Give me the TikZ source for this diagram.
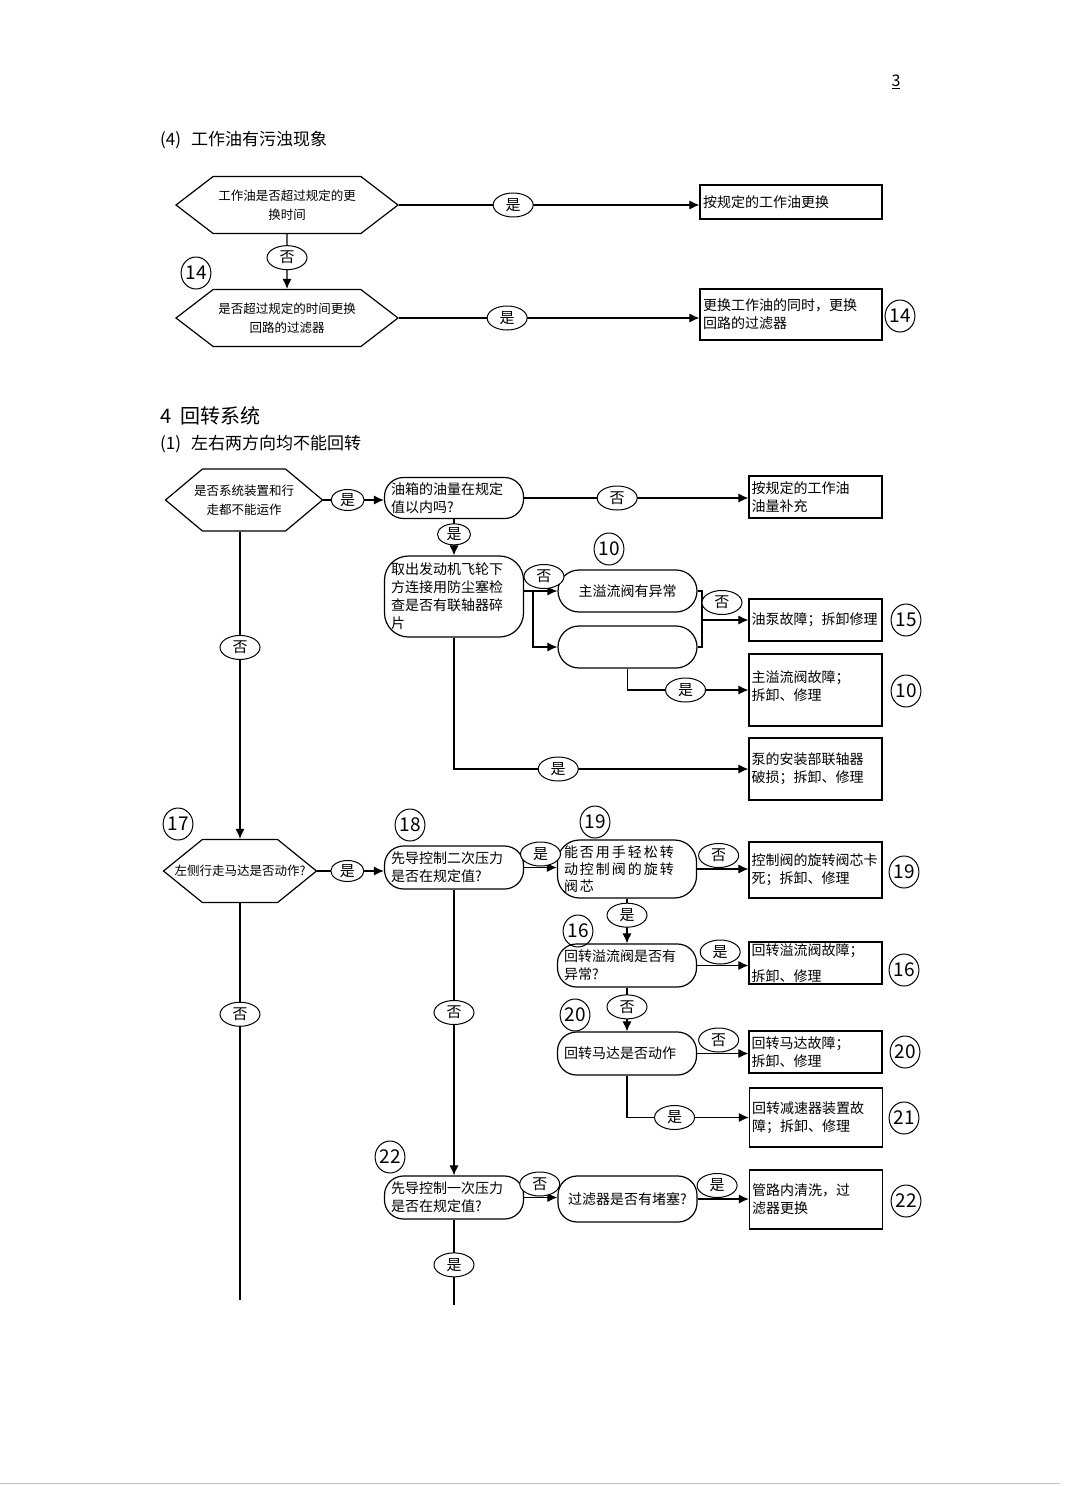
\documentclass[tikz,border=0pt]{standalone}
\usepackage{fontspec}
\setmainfont{Noto Sans CJK SC}
\usetikzlibrary{arrows.meta,shapes.geometric,shapes.symbols}

\tikzset{
  wire/.style={line width=1.1pt},
  flow/.style={wire, -{Latex[length=10pt,width=9pt]}},
  hexa/.style={draw, line width=1.2pt, signal, signal to=east and west, align=center,
    inner sep=0pt, font=\fontsize{12.5}{19}\selectfont},
  rbox/.style={draw, line width=1.2pt, rectangle, rounded corners=19pt, align=left,
    text width=126pt, minimum width=139pt, inner xsep=6pt, inner ysep=1pt,
    font=\fontsize{14}{18}\selectfont},
  obox/.style={draw, line width=1.2pt, rectangle, align=left, text width=128pt,
    minimum width=133pt, inner xsep=2pt, inner ysep=1pt, font=\fontsize{14}{18}\selectfont},
  yn/.style={draw, ellipse, line width=1pt, fill=white, minimum width=40pt,
    minimum height=24pt, inner sep=0pt, font=\fontsize{15}{15}\selectfont},
  yns/.style={yn, minimum width=33pt, minimum height=21pt},
  numtag/.style={draw, ellipse, line width=1pt, minimum width=28pt, minimum height=32pt,
    inner sep=0pt, font=\fontsize{19}{19}\selectfont},
  heading/.style={anchor=west, inner sep=0pt}
}

\begin{document}
\begin{tikzpicture}[x=1pt,y=-1pt]
\fill[white] (0,0) rectangle (1080,1486);
\useasboundingbox (0,0) rectangle (1080,1486);

\node[font=\fontsize{16}{16}\selectfont] (pg) at (896,82) {\underline{3}};

% (4) oil is dirty
\node[heading, font=\fontsize{17}{17}\selectfont] (t4) at (160,140) {(4)\hspace{10pt}工作油有污浊现象};

\node[hexa, minimum width=222pt, minimum height=57pt, signal pointer angle=75] (h1) at (287,205) {工作油是否超过规定的更\\换时间};
\node[hexa, minimum width=222pt, minimum height=57pt, signal pointer angle=75] (h2) at (287,318) {是否超过规定的时间更换\\回路的过滤器};
\node[obox, text width=176pt, minimum width=182pt, minimum height=34pt] (b1) at (791,202) {按规定的工作油更换};
\node[obox, text width=176pt, minimum width=182pt, minimum height=51pt] (b2) at (791,314.5) {更换工作油的同时，更换\\回路的过滤器};
\node[numtag] (n14a) at (196,273) {14};
\node[numtag] (n14b) at (900,316) {14};

\draw[flow] (h1.east) -- node[yn, pos=0.38] {是} (h1.east -| b1.west);
\draw[flow] (h1) -- node[yn, pos=0.43] {否} (h2);
\draw[flow] (h2.east) -- node[yn, pos=0.36] {是} (h2.east -| b2.west);

% 4 swing system
\node[heading, font=\fontsize{20}{20}\selectfont] (t5) at (160,416) {4\hspace{9pt}回转系统};
\node[heading, font=\fontsize{17}{17}\selectfont] (t6) at (160,444) {(1)\hspace{10pt}左右两方向均不能回转};

\node[hexa, minimum width=157pt, minimum height=62pt, signal pointer angle=80, inner xsep=-10pt] (h3) at (244,500) {是否系统装置和行\\走都不能运作};
\node[hexa, minimum width=153pt, minimum height=63pt, signal pointer angle=78, inner xsep=-30pt] (h4) at (240,871) {左侧行走马达是否动作?};

\node[rbox, minimum height=41pt] (r1) at (454,498) {油箱的油量在规定\\值以内吗?};
\node[rbox, minimum height=81pt, rounded corners=24pt] (r2) at (454,596.5) {取出发动机飞轮下\\方连接用防尘塞检\\查是否有联轴器碎\\片};
\node[rbox, minimum height=42pt, rounded corners=21pt, align=center] (r3) at (627.5,591) {主溢流阀有异常};
\node[rbox, minimum height=42pt, rounded corners=21pt] (r4) at (627.5,647) {};
\node[rbox, minimum height=43pt] (r5) at (454,867.5) {先导控制二次压力\\是否在规定值?};
\node[rbox, minimum height=58pt, rounded corners=22pt, font=\fontsize{14}{17}\selectfont\addfontfeature{LetterSpace=14}] (r6) at (627,869) {能否用手轻松转\\动控制阀的旋转\\阀芯};
\node[rbox, minimum height=43pt] (r7) at (627,965.5) {回转溢流阀是否有\\异常?};
\node[rbox, minimum height=43pt] (r8) at (627,1053.5) {回转马达是否动作};
\node[rbox, minimum height=43pt] (r9) at (454,1197.5) {先导控制一次压力\\是否在规定值?};
\node[rbox, minimum height=46pt, align=center] (r10) at (627.5,1199) {过滤器是否有堵塞?};

\node[obox, minimum height=42pt] (b3) at (815.5,497) {按规定的工作油\\油量补充};
\node[obox, minimum height=42pt] (b15) at (815.5,620) {油泵故障；拆卸修理};
\node[obox, minimum height=72pt, text depth=26pt] (b10) at (815.5,690) {主溢流阀故障；\\拆卸、修理};
\node[obox, minimum height=62pt] (b11) at (815.5,769) {泵的安装部联轴器\\破损；拆卸、修理};
\node[obox, minimum height=56pt] (b19) at (815.5,870) {控制阀的旋转阀芯卡\\死；拆卸、修理};
\node[obox, minimum height=42pt] (b16) at (815.5,963) {回转溢流阀故障；\\[8pt]拆卸、修理};
\node[obox, minimum height=42pt] (b20) at (815.5,1052) {回转马达故障；\\拆卸、修理};
\node[obox, minimum height=59pt] (b21) at (816,1117.5) {回转减速器装置故\\障；拆卸、修理};
\node[obox, minimum height=59pt] (b22) at (816,1199.5) {管路内清洗，过\\滤器更换};

\node[numtag] (n10a) at (609,549) {10};
\node[numtag] (n15) at (906,620) {15};
\node[numtag] (n10b) at (906,691) {10};
\node[numtag] (n17) at (178,824) {17};
\node[numtag] (n18) at (410,825) {18};
\node[numtag] (n19a) at (595,822) {19};
\node[numtag] (n19b) at (904,872) {19};
\node[numtag] (n16a) at (578,931) {16};
\node[numtag] (n16b) at (904,970) {16};
\node[numtag] (n20a) at (575,1015) {20};
\node[numtag] (n20b) at (905,1052) {20};
\node[numtag] (n21) at (904,1118) {21};
\node[numtag] (n22a) at (390,1157) {22};
\node[numtag] (n22b) at (906,1201) {22};

\coordinate (s1) at (533,591);
\coordinate (m1) at (702,620);
\coordinate (e1) at (240,1300);
\coordinate (e2) at (454,1305);

% connectors
\draw[flow] (h3.east) -- node[yns, pos=0.4] {是} (h3.east -| r1.west);
\draw[flow] (r1.east) -- node[yn, pos=0.415] {否} (r1.east -| b3.west);
\draw[flow] (r1) -- node[yns, pos=0.42] {是} (r2);
\draw[wire] (r2.east |- s1) -- (s1);
\draw[flow] (s1) -- node[yn, above=2pt, pos=0.45] {否} (r3.west);
\draw[flow] (s1) |- (r4.west);
\draw[wire] (r3.east) -| (m1) |- (r4.east);
\draw[flow] (m1) -- node[yn, above=5pt, pos=0.43] {否} (m1 -| b15.west);
\draw[flow] (r4.south) |- node[yn, pos=0.74] {是} (b10.west);
\draw[flow] (r2.south) |- node[yn, pos=0.677] {是} (b11.west);
\draw[flow] (h3.south -| h4.north) -- node[yn, pos=0.377] {否} (h4.north);
\draw[flow] (h4.east) -- node[yns, pos=0.45] {是} (h4.east -| r5.west);
\draw[flow] (r5.east) -- node[yn, above=1pt] {是} (r5.east -| r6.west);
\draw[flow] (r6.east) -- node[yn, above=1pt, pos=0.42] {否} (r6.east -| b19.west);
\draw[flow] (r6) -- node[yn, pos=0.37] {是} (r7);
\draw[flow] (r7.east) -- node[yn, above=1pt, pos=0.45] {是} (r7.east -| b16.west);
\draw[flow] (r7) -- node[yn, pos=0.44] {否} (r8);
\draw[flow] (r8.east) -- node[yn, above=1pt, pos=0.42] {否} (r8.east -| b20.west);
\draw[flow] (r8.south) |- node[yn, pos=0.695] {是} (b21.west);
\draw[flow] (r5) -- node[yn, pos=0.43] {否} (r9);
\draw[flow] (r9.east) -- node[yn, above=1pt, pos=0.47] {否} (r9.east -| r10.west);
\draw[flow] (r10.east) -- node[yn, above=1pt, pos=0.38] {是} (r10.east -| b22.west);
\draw[wire] (r9) -- node[yn, pos=0.53] {是} (e2);
\draw[wire] (h4) -- node[yn, pos=0.28] {否} (e1);

\draw[gray!50, line width=1pt] (0,1483) -- (1060,1483);
\end{tikzpicture}
\end{document}
